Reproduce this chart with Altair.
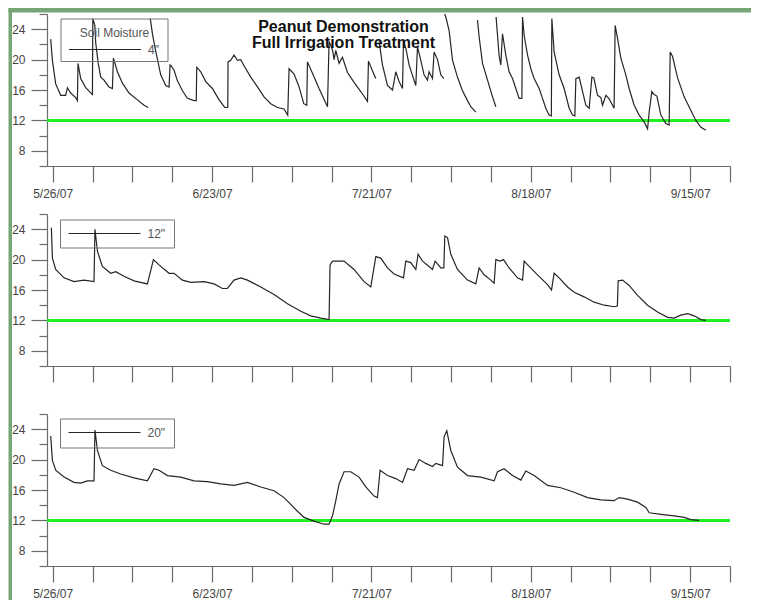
import altair as alt
import pandas as pd

# ---------------- data (days since 5/26/07, volumetric soil moisture %) ----------------
d4_day = [-0.35, -0.05, 0.53, 1.41, 2.28, 2.58, 3.16, 4.04, 4.34, 4.45, 4.92, 5.80, 6.98, 7.05, 7.40, 7.56, 8.00, 8.44,
          9.02, 9.89, 10.49, 10.67, 11.37, 12.25, 13.41, 14.89, 16.05, 16.78,
          17.14, 17.57, 18.10, 18.98, 19.86, 20.44, 20.62, 20.80, 21.32, 21.92, 22.80, 23.67, 24.83, 25.22, 25.31,
          26.01, 26.89, 28.07, 29.23, 30.23, 30.76, 30.81, 31.28, 31.86, 32.46, 33.04, 33.62, 34.80, 35.98, 37.13,
          38.31, 39.49, 40.65, 41.30, 41.53, 42.41, 43.29, 44.11, 44.64, 44.76, 45.64, 46.80, 48.28, 48.56, 49.16,
          49.44, 49.74, 50.32, 50.91, 51.79, 52.95, 54.13, 55.31, 55.48, 56.19, 56.77,
          57.35, 57.94, 58.82, 59.70, 60.28, 60.86, 61.46, 61.63, 62.04, 62.62, 63.22, 63.80, 64.09, 64.67, 65.25,
          65.85, 66.13, 66.73, 67.01, 67.61, 68.19, 68.72,
          68.77, 69.07, 69.65, 70.25, 71.12, 72.00, 72.88, 73.46, 74.34,
          74.64, 74.92, 75.52, 76.40, 77.28, 77.86,
          77.90, 78.44, 78.73, 79.03, 79.61, 80.19, 80.79, 81.37, 81.95, 82.43, 82.55, 82.83, 83.43, 84.01, 84.59,
          85.47, 86.06, 86.64, 87.22, 87.61, 87.70, 88.10, 88.98, 89.86, 90.74, 91.34, 91.74, 91.92, 92.50, 93.10,
          93.67, 94.26, 94.73, 95.08, 95.73, 96.31, 96.61, 97.19, 97.72, 98.36, 98.64, 98.82, 99.24, 99.82, 100.70,
          101.28, 102.16, 103.04, 103.92, 104.52, 104.80, 105.27, 105.68, 106.15, 106.85, 107.73, 108.31, 108.49,
          108.91, 109.79, 110.95, 112.13, 113.01, 113.89, 114.76]
d4_val = [22.7, 19.9, 16.8, 15.3, 15.3, 16.3, 15.6, 15.0, 14.6, 19.5, 17.5, 16.3, 15.4, 25.4, 24.5, 22.2, 19.5, 17.7,
          17.3, 16.4, 16.2, 20.2, 18.4, 16.9, 15.6, 14.7, 14.0, 13.7,
          25.4, 23.2, 21.1, 18.0, 16.6, 16.4, 19.3, 19.2, 18.6, 17.2, 15.9, 14.9, 14.6, 14.6, 19.0,
          18.4, 17.1, 16.2, 14.7, 13.7, 13.7, 19.7, 19.9, 20.6, 19.9, 20.0, 19.2, 17.7, 16.4, 15.1,
          14.2, 13.7, 13.5, 12.7, 18.8, 18.1, 16.4, 14.2, 14.0, 19.7, 18.2, 16.2, 13.8, 22.4, 21.3,
          20.0, 21.2, 19.5, 20.3, 18.3, 17.0, 15.8, 14.5, 19.8, 18.5, 17.5,
          22.4, 19.3, 16.6, 16.0, 18.4, 17.1, 16.2, 22.4, 21.5, 19.3, 17.9, 16.6, 21.7, 19.9, 18.0,
          17.3, 18.4, 17.5, 21.0, 20.0, 18.0, 17.5,
          26.2, 25.6, 23.8, 19.9, 17.7, 15.9, 14.6, 13.8, 13.1,
          25.2, 23.0, 19.5, 17.3, 15.1, 13.8,
          25.6, 20.5, 19.3, 23.4, 20.6, 18.4, 17.5, 16.2, 14.9, 14.9, 25.6, 23.2, 20.6, 18.8, 17.5,
          16.2, 14.9, 13.6, 12.7, 12.6, 25.4, 21.0, 18.0, 16.2, 13.6, 12.7, 12.6, 17.5, 17.7, 15.8,
          14.0, 13.6, 17.7, 17.6, 15.3, 15.0, 14.0, 15.3, 14.9, 14.0, 13.6, 24.5, 22.8, 20.2, 18.0,
          16.2, 14.0, 12.7, 11.8, 10.9, 13.1, 15.8, 15.4, 15.2, 12.7, 11.6, 11.4, 21.0,
          20.4, 17.6, 15.1, 13.3, 12.0, 11.1, 10.7]
d4_seg = [1] * 28 + [2] * 56 + [3] * 22 + [4] * 9 + [5] * 6 + [6] * 65

d12_day = [-0.23, -0.05, 0.53, 1.99, 3.74, 5.50, 7.26, 7.43, 7.86, 8.73, 10.19, 11.07, 12.53, 14.29, 16.64, 17.70,
           18.68, 20.44, 21.32, 22.79, 24.25, 26.59, 28.35, 29.82, 30.70, 31.86, 33.04, 34.22, 36.56, 38.89, 41.25,
           43.59, 45.34, 47.10, 48.56, 48.73, 49.16, 50.04, 51.19, 52.95, 54.71, 55.89, 56.77, 57.64, 58.82, 59.98,
           61.63, 62.04, 62.92, 63.80, 64.20, 64.97, 66.13, 66.73, 67.19, 68.19, 68.72, 68.89, 69.37, 69.95, 71.12,
           72.88, 74.34, 74.92, 75.80, 76.98, 77.56, 77.86, 78.61, 79.21, 80.19, 81.67, 82.55, 82.83, 83.71, 85.18,
           86.94, 87.64, 88.10, 88.98, 90.46, 91.62, 93.37, 95.13, 96.89, 98.64, 99.21, 99.35, 100.12, 101.28, 102.76,
           104.52, 106.27, 108.03, 109.19, 110.37, 111.55, 112.71, 113.89, 114.76]
d12_val = [24.2, 20.2, 18.7, 17.6, 17.1, 17.3, 17.1, 24.0, 21.1, 19.1, 18.2, 18.4, 17.8, 17.2, 16.8, 20.0,
           19.3, 18.2, 18.2, 17.3, 17.0, 17.1, 16.8, 16.2, 16.2, 17.3, 17.6, 17.3, 16.4, 15.4, 14.2,
           13.2, 12.6, 12.3, 12.1, 19.3, 19.8, 19.8, 19.8, 18.7, 17.1, 16.4, 20.4, 20.2, 18.9, 18.1,
           17.6, 19.8, 19.6, 18.7, 20.7, 19.8, 19.1, 18.7, 19.8, 18.9, 18.9, 23.1, 22.9, 20.7, 18.7,
           17.3, 16.8, 18.9, 18.0, 17.3, 16.9, 20.0, 19.8, 20.0, 18.9, 17.6, 17.3, 19.8, 19.1, 18.0,
           16.7, 16.0, 18.2, 17.6, 16.4, 15.7, 15.1, 14.4, 14.0, 13.8, 13.9, 17.2, 17.3, 16.6, 15.3,
           14.0, 13.1, 12.4, 12.3, 12.7, 12.9, 12.6, 12.1, 12.0]

d20_day = [-0.35, -0.05, 0.53, 1.99, 3.74, 4.92, 6.10, 7.26, 7.43, 7.86, 8.73, 10.19, 11.95, 14.29, 16.64, 17.80,
           18.68, 20.16, 22.50, 24.83, 27.19, 29.53, 31.86, 34.22, 36.56, 38.89, 40.65, 41.83, 43.01, 44.17, 45.92,
           47.68, 48.56, 49.16, 49.74, 50.32, 51.19, 52.37, 53.83, 55.01, 56.47, 57.06, 57.52, 58.82, 60.28, 61.46,
           62.34, 63.50, 64.38, 65.55, 66.73, 67.31, 68.49, 68.77, 69.24, 69.95, 71.12, 72.88, 75.22, 77.56, 78.15,
           79.31, 80.79, 82.25, 83.13, 84.59, 86.94, 89.28, 91.62, 93.97, 96.31, 98.64, 99.52, 101.00, 102.76,
           104.22, 104.80, 106.85, 109.19, 110.95, 112.13, 113.59]
d20_val = [23.1, 19.9, 18.6, 17.7, 17.0, 16.9, 17.2, 17.2, 23.9, 21.2, 19.2, 18.6, 18.1, 17.6, 17.2, 18.8,
           18.6, 17.9, 17.7, 17.2, 17.1, 16.8, 16.6, 17.0, 16.4, 15.9, 15.0, 14.1, 13.2, 12.4, 11.9,
           11.5, 11.5, 12.6, 14.6, 16.8, 18.4, 18.4, 17.7, 16.4, 15.2, 15.0, 18.6, 17.9, 17.5, 17.0,
           18.8, 18.6, 20.0, 19.5, 19.1, 19.5, 19.2, 23.0, 23.8, 21.2, 19.0, 17.9, 17.7, 17.2, 18.4,
           18.8, 17.9, 17.3, 18.5, 17.9, 16.6, 16.3, 15.7, 15.0, 14.7, 14.6, 15.0, 14.8, 14.4,
           13.7, 13.0, 12.8, 12.6, 12.4, 12.1, 12.0]

series_names = ['4"', '12"', '20"']
threshold = [12]
title_lines = ["Peanut Demonstration", "Full Irrigation Treatment"]
legend_title = "Soil Moisture"
y_major = [8, 12, 16, 20, 24]
y_minor = [6, 10, 14, 18, 22, 26]
x_ticks = list(range(0, 120, 7))  # weekly, days since 5/26/07

# ---------------- styling ----------------
FONT = "Liberation Sans"
W, H = 683, 152
AXIS_GRAY = "#6b6b6b"
TEXT_GRAY = "#444444"
LEG_GRAY = "#555555"
FRAME_GREEN = "#76a676"
LINE_GREEN = "#22ee22"
DATA_COLOR = "#262626"

one = pd.DataFrame({"k": [0]})


def make_df(days, vals, segs, name):
    return pd.DataFrame({"day": days, "value": vals, "seg": segs, "series": name})


def panel(df, name, show_labels, box, title, frame_top, frame_bottom):
    x_axis = alt.Axis(
        values=x_ticks, tickSize=16, tickColor=AXIS_GRAY, domainColor=AXIS_GRAY,
        labels=show_labels, labelPadding=6, labelFontSize=12, labelColor=TEXT_GRAY, labelFont=FONT,
        labelExpr="datum.value % 28 == 0 ? timeFormat(datetime(2007, 4, 26 + datum.value), '%-m/%-d/%y') : ''",
        labelOverlap=False, grid=False, title=None,
    )
    y_axis = alt.Axis(
        values=y_major + y_minor,
        tickSize={"condition": {"test": "indexof([8, 12, 16, 20, 24], datum.value) >= 0", "value": 16},
                  "value": 8},
        tickColor=AXIS_GRAY, domainColor=AXIS_GRAY, labelPadding=6, labelFontSize=12,
        labelColor=TEXT_GRAY, labelFont=FONT,
        labelExpr="indexof([8, 12, 16, 20, 24], datum.value) >= 0 ? datum.label : ''",
        labelOverlap=False, grid=False, title=None,
    )
    x = alt.X("day:Q", scale=alt.Scale(domain=[-1, 119], nice=False, zero=False), axis=x_axis)
    y = alt.Y("value:Q", scale=alt.Scale(domain=[6, 26], nice=False, zero=False), axis=y_axis)

    thr = alt.Chart(pd.DataFrame({"value": threshold})).mark_rule(
        color=LINE_GREEN, strokeWidth=3).encode(y=y)
    line = alt.Chart(df).mark_line(strokeWidth=1.2, clip=True, color=DATA_COLOR).encode(
        x=x, y=y, detail="seg:N")

    # legend box (drawn by hand, as in the original figure)
    bx0, bx1, by0, by1, ly = box
    leg_box = alt.Chart(one).mark_rect(fillOpacity=0, stroke="#777777", strokeWidth=1).encode(
        x=alt.value(bx0), x2=alt.value(bx1), y=alt.value(by0), y2=alt.value(by1))
    leg_line = alt.Chart(one).mark_rule(color=DATA_COLOR, strokeWidth=1).encode(
        x=alt.value(bx0 + 8), x2=alt.value(bx0 + 80), y=alt.value(ly))
    leg_text = alt.Chart(pd.DataFrame({"s": [name]})).mark_text(
        font=FONT, fontSize=12, color=LEG_GRAY, align="left", baseline="middle").encode(
        text="s:N", x=alt.value(bx0 + 87), y=alt.value(ly))

    frame_left = alt.Chart(one).mark_rect(color=FRAME_GREEN).encode(
        x=alt.value(-38.5), x2=alt.value(-35), y=alt.value(frame_top), y2=alt.value(frame_bottom))
    layers = [thr, line, leg_box, leg_line, leg_text, frame_left]
    if title:
        layers.append(alt.Chart(one).mark_text(
            text=legend_title, font=FONT, fontSize=12, color=LEG_GRAY, align="center", baseline="middle"
        ).encode(x=alt.value((bx0 + bx1) / 2), y=alt.value(by0 + 14)))
        layers.append(alt.Chart(one).mark_rect(color=FRAME_GREEN).encode(
            x=alt.value(-38.5), x2=alt.value(704), y=alt.value(-6), y2=alt.value(-1.5)))
        layers.append(alt.Chart(one).mark_text(
            text=title_lines, font=FONT, fontSize=16, fontWeight="bold", color="#111111",
            align="center", baseline="alphabetic", lineHeight=16.5,
        ).encode(x=alt.value(296.5), y=alt.value(17.5)))
    return alt.layer(*layers).properties(width=W, height=H)


p1 = panel(make_df(d4_day, d4_val, d4_seg, series_names[0]), series_names[0], True,
           (14, 121, 5, 47.5, 35.5), True, -6, 200)
p2 = panel(make_df(d12_day, d12_val, [1] * len(d12_day), series_names[1]), series_names[1], False,
           (13.5, 127.5, 6, 34, 19.5), False, 0, 200)
p3 = panel(make_df(d20_day, d20_val, [1] * len(d20_day), series_names[2]), series_names[2], True,
           (13.5, 127.5, 5, 34, 18.5), False, 0, 186)

chart = (
    alt.vconcat(p1, p2, p3, spacing=48, bounds="flush")
    .properties(padding=0, background="white")
    .configure_view(stroke=None)
    .configure_axis(domainWidth=1.2, tickWidth=1.2)
)

chart.save("out.html", embed_options={"renderer": "svg", "actions": False})
